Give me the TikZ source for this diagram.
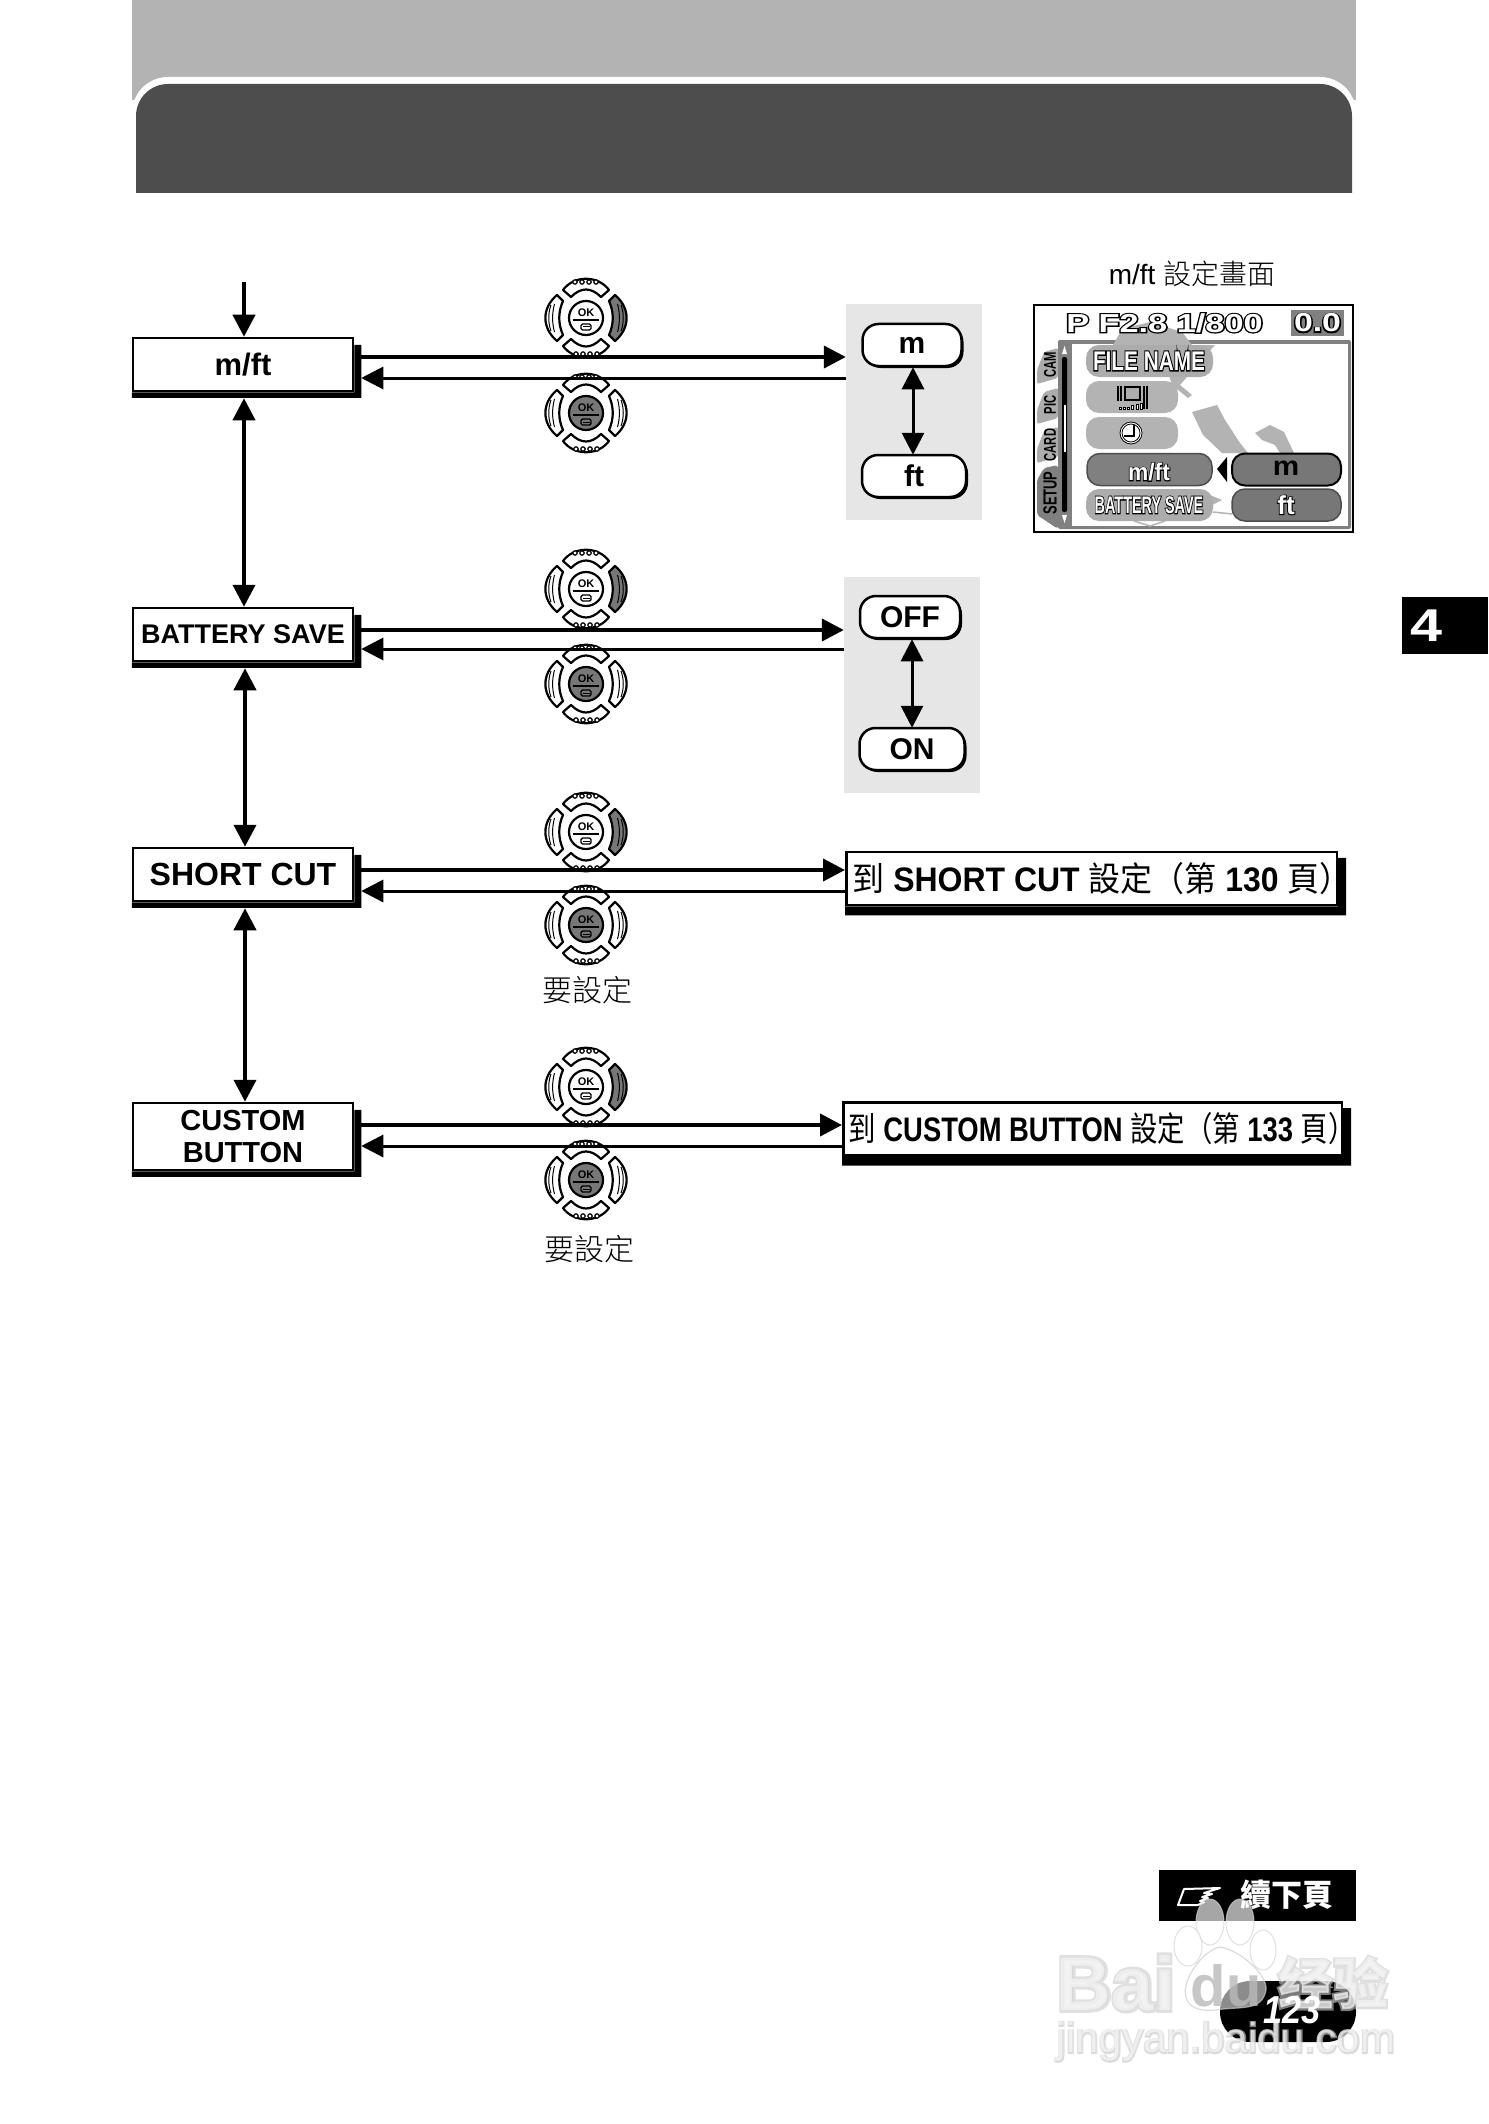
\documentclass[tikz,border=0pt]{standalone}
\usepackage{fontspec}
\usepackage{graphicx}
\usetikzlibrary{arrows.meta,shadows}
\setmainfont{Liberation Sans}
\newfontfamily\cjk{Noto Sans CJK TC}
\newfontfamily\cjklight{Noto Sans CJK TC Light}
\definecolor{headlight}{HTML}{B3B3B3}
\definecolor{headdark}{HTML}{4D4D4D}
\definecolor{panelgray}{HTML}{E6E6E6}
\definecolor{padgray}{HTML}{777777}
\definecolor{lcdgray}{HTML}{808080}
\definecolor{lcdlight}{HTML}{ACACAC}
\newcommand\fs[1]{\fontsize{#1}{#1}\selectfont}
\tikzset{
    >={Triangle[length=22pt,width=22pt]},
    flowline/.style={line width=4pt},
    thinflow/.style={line width=3pt},
    menubox/.style={draw,fill=white,line width=2.5pt,inner sep=0pt,minimum width=220pt,minimum height=53pt,
        align=center,font=\bfseries\fs{31}},
    gotobox/.style={draw,fill=white,line width=2.5pt,inner sep=0pt,minimum height=53pt,font=\bfseries\fs{34}},
    sidepanel/.style={fill=panelgray,inner sep=0pt,minimum width=136pt,minimum height=216pt},
    valuepill/.style={draw,fill=white,line width=2.5pt,rounded corners=16pt,inner sep=0pt,minimum height=42pt,
        font=\bfseries\fs{30},
        drop shadow={shadow xshift=2pt,shadow yshift=-2pt,fill=black,opacity=1}},
    lcdpill/.style={rounded corners=13pt,inner sep=0pt,minimum height=32pt},
    padline/.style={line width=2.2pt,line join=round},
    dpadright/.pic={\padbase{padgray}{white}},
    dpadok/.pic={\padbase{white}{padgray}},
}
\newcommand\padbase[2]{
    \foreach \r in {0,180} {
        \draw[padline,fill=white,rotate=\r] (-23,-28) .. controls (-12,-43) and (12,-43) .. (23,-28) -- (15,-21) .. controls (5,-31) and (-5,-31) .. (-15,-21) -- cycle;
        \foreach \d in {-11,-4,3,10} \draw[line width=1.2pt,fill=white,rotate=\r] (\d,-36) circle(2.2);
    }
    \foreach \s/\f in {1/white,-1/#1} {
        \draw[padline,fill=\f,xscale=\s] (-29,-23) .. controls (-44.5,-10) and (-44.5,10) .. (-29,23) -- (-23,17) .. controls (-28,6) and (-28,-6) .. (-23,-17) -- cycle;
        \draw[line width=1pt,xscale=\s] (-35,-13) .. controls (-38,-5) and (-38,5) .. (-35,13);
        \draw[line width=1pt,xscale=\s] (-31.5,-14) .. controls (-34,-5) and (-34,5) .. (-31.5,14);
    }
    \draw[padline,fill=#2] (0,0) circle(17);
    \node[inner sep=0pt,font=\bfseries\fs{11}] (-oktext) at (0,-5) {OK};
    \draw[line width=1.6pt] (-13,2) -- (13,2);
    \draw[line width=1.4pt,fill=#2,rounded corners=1.5pt] (-5,6) rectangle (5,12);
    \draw[line width=1pt] (-3,9) -- (4,9);
}
\newcommand\lcdtext[6]{
    \node[inner sep=0pt,text=black,font=\bfseries\fs{#3}\addfontfeature{FakeBold=#5}] (#1back) at (#2) {\scalebox{#4}[1]{#6}};
    \node[inner sep=0pt,text=white,font=\bfseries\fs{#3}] (#1) at (#2) {\scalebox{#4}[1]{#6}};
}
\newcommand\markmark[5]{
    \node[inner sep=0pt,opacity=.6,text=gray!40,font=#4\addfontfeature{FakeBold=#3}] (#1back) at (#2) {#5};
    \node[inner sep=0pt,opacity=.6,text=white,font=#4] (#1) at (#2) {#5};
}
\newcommand\boxshadow[4]{
    \fill[black] (#1.south west) -- ([yshift=-#3pt]#1.south west) -- ([xshift=#2pt,yshift=-#3pt]#1.south east) -- ([xshift=#2pt,yshift=-#4pt]#1.north east) -- ([yshift=-#4pt]#1.north east) -- (#1.south east) -- cycle;
}
\begin{document}
\begin{tikzpicture}[x=1pt,y=-1pt]
    \useasboundingbox (0,0) rectangle (1488,2124);
    \fill[headlight] (132,0) rectangle (1356,100);
    \fill[white] (132,193) [rounded corners=36pt] -- (132,77) -- (1356,77) [sharp corners] -- (1356,193) -- cycle;
    \fill[headdark] (136,193) [rounded corners=32pt] -- (136,84) -- (1352,84) [sharp corners] -- (1352,193) -- cycle;
    \node[fill=black,inner sep=0pt,minimum width=86pt,minimum height=57pt] (tabbox) at (1445,625.5) {};
    \node[text=white,inner sep=0pt,font=\bfseries\fs{46}] (tabnum) at (1426,626) {\scalebox{1.25}[1]{4}};

    \node[menubox] (mft) at (243,364.5) {m/ft};
    \node[menubox,font=\bfseries\fs{27}] (battery) at (243,634.5) {BATTERY SAVE};
    \node[menubox,font=\bfseries\fs{32}] (shortcut) at (243,874.5) {SHORT CUT};
    \node[menubox,minimum height=67pt,font=\bfseries\fontsize{29}{32}\selectfont] (custom) at (243,1136.5) {CUSTOM\\BUTTON};
    \foreach \n in {mft,battery,shortcut,custom} {\boxshadow{\n}{7}{5.5}{8}}

    \node[sidepanel] (mftpanel) at (914,412) {};
    \node[sidepanel] (batpanel) at (912,685) {};
    \node[gotobox,minimum width=490.5pt] (shortbox) at (1091.5,878.5) {\makebox[478pt][l]{\scalebox{.94}[1]{{\cjk\mdseries 到} SHORT CUT {\cjk\mdseries 設定（第} 130 {\cjk\mdseries 頁）}}}};
    \node[gotobox,minimum width=498.5pt] (custombox) at (1092.5,1128.75) {\makebox[488pt][l]{\scalebox{.805}[1]{{\cjk\mdseries 到} CUSTOM BUTTON {\cjk\mdseries 設定（第} 133 {\cjk\mdseries 頁）}}}};
    \foreach \n in {shortbox,custombox} {\boxshadow{\n}{8}{9}{7}}

    \node[valuepill,minimum width=99pt] (mpill) at (912,345) {m};
    \node[valuepill,minimum width=104pt] (ftpill) at (914,476) {ft};
    \node[valuepill,minimum width=100pt] (offpill) at (910,617) {OFF};
    \node[valuepill,minimum width=105pt] (onpill) at (912,749) {ON};

    \foreach \n/\y in {a/318,b/589,c/832,d/1087} \pic (right\n) at (586,\y) {dpadright};
    \foreach \n/\y in {a/413,b/684,c/925,d/1180} \pic (ok\n) at (586,\y) {dpadok};
    \node[font=\cjklight\fs{30},inner sep=0pt] (needa) at (587,990) {要設定};
    \node[font=\cjklight\fs{30},inner sep=0pt] (needb) at (589,1249) {要設定};

    \coordinate (entry) at (244,282);
    \draw[->,flowline] (entry) -- (entry |- mft.north);
    \draw[<->,flowline,shorten <=6pt] ([xshift=1pt]mft.south) -- ([xshift=1pt]battery.north);
    \draw[<->,flowline,shorten <=6pt] ([xshift=2pt]battery.south) -- ([xshift=2pt]shortcut.north);
    \draw[<->,flowline,shorten <=6pt] ([xshift=2pt]shortcut.south) -- ([xshift=2pt]custom.north);
    \foreach \src/\dst/\ya/\yb in {mft/mftpanel/357/378,battery/batpanel/630/649,shortcut/shortbox/870/891,custom/custombox/1125/1146} {
        \draw[->,flowline] ([xshift=7pt]\src.east |- 0,\ya) -- (\dst.west |- 0,\ya);
        \draw[->,thinflow] (\dst.west |- 0,\yb) -- ([xshift=7pt]\src.east |- 0,\yb);
    }
    \draw[<->,thinflow] ([xshift=1pt]mpill.south) -- ([yshift=-1pt,xshift=-1pt]ftpill.north);
    \draw[<->,thinflow] ([xshift=2pt]offpill.south) -- ([yshift=-1pt]onpill.north);

    \node[inner sep=0pt,font=\fs{28}] (lcdtitle) at (1192,274) {m/ft {\cjklight 設定畫面}};
    \node[draw,fill=white,line width=2.5pt,inner sep=0pt,minimum width=319pt,minimum height=227pt] (lcd) at (1193.5,418.5) {};
    \node[fill=lcdgray,inner sep=0pt,minimum width=293pt,minimum height=189pt,rounded corners=2pt] (lcdframe) at (1204.5,434.5) {};
    \fill[white] (1072,344) rectangle (1348,526);
    \fill[headlight] (1113,345) -- (1122,329) -- (1150,322) -- (1182,332) -- (1192,345) -- (1215,345) -- (1180,385) -- (1192,395) -- (1188,398) -- (1172,385) -- (1160,345) -- cycle;
    \fill[headlight] (1192,412) -- (1217,405) -- (1225,420) -- (1240,443) -- (1248,453) -- (1222,453) -- (1203,435) -- cycle;
    \fill[headlight] (1255,433) -- (1270,425) -- (1284,432) -- (1294,453) -- (1280,453) -- (1275,445) -- (1262,440) -- cycle;
    \fill[headlight] (1210,495) -- (1222,500) -- (1212,505) -- cycle;
    \draw[headlight,line width=1.5pt] (1213,512) -- (1232,514);
    \draw[headlight,line width=1.5pt] (1134,521) -- (1150,526) -- (1165,521);
    \foreach \y/\t in {348/CAM,388/PIC,427/CARD} {
        \fill[lcdlight,rounded corners=2pt] (1058,\y) -- (1044,\y+4) -- (1037,\y+22) -- (1037,\y+36) -- (1058,\y+30) -- cycle;
    }
    \node[rotate=90,inner sep=0pt,font=\bfseries\fs{17}] (camtab) at (1050,365) {\scalebox{.66}[1]{CAM}};
    \node[rotate=90,inner sep=0pt,font=\bfseries\fs{17}] (pictab) at (1050,405) {\scalebox{.66}[1]{PIC}};
    \node[rotate=90,inner sep=0pt,font=\bfseries\fs{17}] (cardtab) at (1050,445) {\scalebox{.66}[1]{CARD}};
    \fill[lcdgray,rounded corners=3pt] (1058,465) -- (1044,468) -- (1037,480) -- (1037,515) -- (1058,529) -- cycle;
    \node[rotate=90,inner sep=0pt,font=\bfseries\fs{19}] (setuptab) at (1050,493) {\scalebox{.68}[1]{SETUP}};
    \fill[black,rounded corners=2pt] (1062,357) rectangle (1067,512);
    \fill[white] (1063.5,405) rectangle (1065.5,452);
    \fill[white] (1064.5,346) -- (1067,354) -- (1062,354) -- cycle;
    \fill[white] (1064.5,523) -- (1067,515) -- (1062,515) -- cycle;

    \node[lcdpill,fill=lcdlight,minimum width=127pt] (filepill) at (1149.5,361) {};
    \node[lcdpill,fill=headlight,minimum width=92pt] (screenpill) at (1132,397) {};
    \node[lcdpill,fill=headlight,minimum width=92pt] (clockpill) at (1132,433) {};
    \node[lcdpill,fill=lcdgray,draw=headdark,line width=1.5pt,minimum width=125pt] (mftpill) at (1149.5,469.5) {};
    \node[lcdpill,fill=lcdlight,minimum width=127pt] (savepill) at (1149.5,505) {};
    \node[lcdpill,fill=padgray,draw=black,line width=2pt,minimum width=109pt] (lcdm) at (1286.5,469.5) {};
    \node[lcdpill,fill=padgray,draw=headdark,line width=1.5pt,minimum width=109pt] (lcdft) at (1286.5,505) {};
    \fill[black] (1217,469) -- (1227,457) -- (1227,482) -- cycle;

    \draw[line width=1.2pt,fill=lcdlight] (1125,387) rectangle (1140,400);
    \draw[line width=1.2pt] (1118,386) -- (1118,401);
    \draw[line width=1.2pt] (1121,386) -- (1121,401);
    \draw[line width=1.2pt] (1144,386) -- (1144,409);
    \draw[line width=1.2pt] (1147,386) -- (1147,409);
    \foreach \x/\h in {1119/2,1123/2,1127/2,1131/4,1136/5,1140/6} \draw[line width=1pt,fill=white] (\x,409) rectangle (\x+2,409-\h);
    \draw[line width=.8pt,fill=white] (1131,433) circle(11);
    \draw[line width=.8pt] (1131,433) circle(9);
    \draw[line width=1.2pt] (1134,425) -- (1134,436) -- (1124,436);

    \fill[lcdgray] (1291,310) rectangle (1344,336);
    \lcdtext{ptext}{1164.5,323}{26}{1.32}{9}{P F2.8 1/800}
    \lcdtext{evtext}{1317.5,323}{26}{1.3}{9}{0.0}
    \lcdtext{filetext}{1149,361}{27}{.77}{9}{FILE NAME}
    \lcdtext{mfttext}{1149,472}{24}{.95}{7}{m/ft}
    \lcdtext{savetext}{1149,505}{24}{.6}{9}{BATTERY SAVE}
    \lcdtext{fttext}{1286,505}{26}{1}{7}{ft}
    \node[inner sep=0pt,font=\bfseries\fs{27}] (mtext) at (1286,468) {\scalebox{1.1}[1]{m}};

    \node[fill=black,inner sep=0pt,minimum width=197pt,minimum height=51pt] (nextbox) at (1257.5,1895.5) {};
    \node[text=white,inner sep=0pt,font=\cjk\bfseries\fs{31}] (nexttext) at (1287,1895) {續下頁};
    \coordinate (hand) at (1178,1905);
    \draw[white,line width=2pt,line join=round] (hand) -- ++(6,-16) -- ++(36,-1) -- ++(-16,5) -- ++(8,1) -- ++(-10,3) -- ++(6,1) -- ++(-8,3) -- ++(4,1) -- ++(-6,3) -- cycle;
    \node[fill=black,rounded corners=30pt,inner sep=0pt,minimum width=136pt,minimum height=61pt] (pagebox) at (1288,2011.5) {};

    \markmark{bai}{1116,1983}{7}{\bfseries\fs{76}}{Bai}
    \markmark{jing}{1333,1983}{7}{\cjk\bfseries\fs{55}}{经验}
    \markmark{site}{1226,2042}{6}{\fs{42}}{jingyan.baidu.com}
    \fill[white,opacity=.55] (1220,1947) .. controls (1205,1950) and (1190,1970) .. (1186,1985) .. controls (1182,2005) and (1195,2012) .. (1215,2010) .. controls (1240,2006) and (1262,2012) .. (1266,1990) .. controls (1268,1975) and (1240,1950) .. (1220,1947);
    \draw[gray!40,opacity=.7,line width=1.2pt] (1220,1947) .. controls (1205,1950) and (1190,1970) .. (1186,1985) .. controls (1182,2005) and (1195,2012) .. (1215,2010) .. controls (1240,2006) and (1262,2012) .. (1266,1990) .. controls (1268,1975) and (1240,1950) .. (1220,1947);
    \node[inner sep=0pt,opacity=.8,text=gray!55,font=\bfseries\fs{58}] (du) at (1226,1986) {du};
    \foreach \x/\y/\rx/\ry in {1210/1922/14/23,1240/1922/14/23,1188/1946/14/20,1263/1950/13/20} {
        \fill[white,opacity=.65] (\x,\y) ellipse({\rx} and {\ry});
        \draw[gray!35,opacity=.7,line width=1pt] (\x,\y) ellipse({\rx} and {\ry});
    }
    \node[text=white,inner sep=0pt,font=\bfseries\itshape\fs{39}] (pagenum) at (1292,2010) {\scalebox{.88}[1]{123}};
\end{tikzpicture}
\end{document}
